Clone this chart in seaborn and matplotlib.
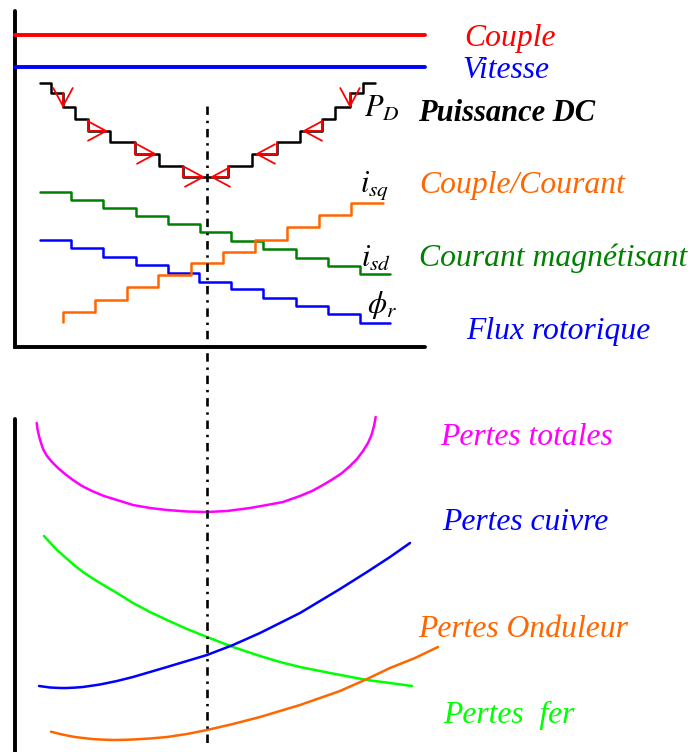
import matplotlib
matplotlib.use("Agg")
import matplotlib.pyplot as plt
import seaborn as sns

# --- data (in picture units: x right, y down) ---
couple_x = [15, 425]
couple_y = [35, 35]
vitesse_x = [15, 425]
vitesse_y = [67, 67]

# DC power staircase (steps-post)
pd_x = [40, 51, 63, 75, 88, 110, 135, 159, 183, 207, 228, 252, 277, 300, 322, 335, 350, 363, 375]
pd_y = [82.7, 93.3, 106.7, 119.3, 130.7, 141.7, 154, 166, 176.7, 176.7,
        166, 154, 141.7, 130.7, 119.3, 106.7, 93.3, 82.7, 82.7]

# i_sd (green), phi_r (blue), i_sq (orange)
isd_x = [40, 71, 103, 136, 168, 200, 231, 263, 296, 328, 360, 390]
isd_y = [191.7, 200, 208.3, 216, 224, 232.3, 241, 249.3, 257.7, 266, 274, 274]
phi_x = [40, 71, 103, 136, 168, 199, 231, 263, 296, 328, 360, 390]
phi_y = [240, 248.3, 256.7, 265, 273.3, 281.7, 289.3, 297.7, 306, 314.3, 322.7, 322.7]
isq_x = [63, 63, 95, 127, 158, 191, 223, 255, 287, 319, 351, 383]
isq_y = [321.7, 311.7, 300, 287.3, 275, 263.3, 251.7, 240, 227.3, 215, 203.3, 203.3]

# red arrows along the DC power staircase: (start, tip)
arrows = [((63, 93), (63, 108)), ((88, 120), (108, 131)), ((135, 142), (157, 154)),
          ((183, 166), (205, 177)), ((228, 166), (210, 177)), ((277, 142), (255, 154)),
          ((322, 120), (302, 131)), ((350, 93), (350, 108))]

# loss curves
tot_x = [36.7, 37.5, 39, 41, 43.5, 47, 52, 58, 65, 73, 82, 92, 104, 117, 133, 150, 167, 187, 207,
         227, 250, 267, 283, 300, 312, 323, 333, 342, 350, 357, 363, 368, 371.5, 374, 375.7]
tot_y = [423, 429, 436, 443, 450, 456, 462, 468, 474, 480, 486, 491, 496, 500, 505, 508, 510, 511.5, 512,
         511, 508, 505, 502, 496, 491, 485, 479, 473, 466, 459, 451, 443, 435, 426, 417]
fer_x = [44, 50, 57, 65, 74, 83, 92, 100, 117, 133, 150, 167, 187, 207, 233, 260, 280, 300, 330, 367, 390, 412]
fer_y = [536, 542.5, 550, 557, 565, 572, 578, 583, 593, 603, 612, 620, 629, 637, 647, 656, 662, 667, 673, 680, 683, 686]
cu_x = [39, 50, 60, 67, 75, 83, 100, 117, 133, 150, 167, 187, 207, 233, 260, 280, 300, 320, 340, 367, 390, 410]
cu_y = [686, 687.5, 688, 688, 687.6, 687, 684.5, 681, 677, 672, 667, 661, 655, 645, 633, 623, 613, 601, 589, 572, 557, 543]
ond_x = [51, 60, 67, 75, 83, 92, 100, 113, 125, 133, 150, 167, 187, 207, 233, 260, 280, 300, 320, 340, 367, 390, 415, 438]
ond_y = [731.7, 734, 735.5, 737, 738, 739, 739.5, 740, 739.8, 739.5, 738.5, 737, 734, 730, 724, 717, 711, 705, 698, 691, 679, 668, 658, 647]

labels = ["Couple", "Vitesse", "Couple/Courant", "Courant magnétisant", "Flux rotorique",
          "Pertes totales", "Pertes cuivre", "Pertes Onduleur", "Pertes  fer"]
label_pos = [(464, 45.7), (462, 78.3), (419, 193.3), (419, 266), (466, 339.3),
             (440, 445), (442, 530), (418, 637.3), (443, 722.7)]
label_col = ["#ff0000", "#0000ff", "#ff6600", "#008000", "#0000ff",
             "#ff00ff", "#0000ff", "#ff6600", "#00ff00"]

sym = [r"$P_D$", r"$i_{sq}$", r"$i_{sd}$", r"$\phi_r$"]
sym_pos = [(364, 116.7), (360, 191.7), (361, 266.7), (367, 313)]

sns.set_style("white")
plt.rcParams["mathtext.fontset"] = "stix"
plt.rcParams["font.family"] = ["Liberation Serif", "DejaVu Serif"]

fig = plt.figure(figsize=(6.91, 7.52), dpi=100)
ax = fig.add_axes([0, 0, 1, 1])

# frames
ax.plot([15, 15, 425], [11, 347, 347], color="black", lw=2.8, solid_joinstyle="miter")
ax.plot([15, 15], [419, 752], color="black", lw=2.8)

sns.lineplot(x=couple_x, y=couple_y, color="#ff0000", lw=2.8, ax=ax)
sns.lineplot(x=vitesse_x, y=vitesse_y, color="#0000ff", lw=2.8, ax=ax)

step_kw = dict(estimator=None, sort=False, drawstyle="steps-post", lw=1.8, ax=ax)
sns.lineplot(x=pd_x, y=pd_y, color="black", **step_kw)
sns.lineplot(x=isd_x, y=isd_y, color="#008000", **step_kw)
sns.lineplot(x=phi_x, y=phi_y, color="#0000ff", **step_kw)
sns.lineplot(x=isq_x, y=isq_y, color="#ff6600", **step_kw)

for (sx, sy), (tx, ty) in arrows:
    cs = "arc3" if sx == tx else "angle,angleA=90,angleB=0,rad=0"
    ax.annotate("", xy=(tx, ty), xytext=(sx, sy),
                arrowprops=dict(arrowstyle="->,head_length=1.3,head_width=0.7",
                                color="#ff0000", lw=1.3, shrinkA=0, shrinkB=0,
                                mutation_scale=10, connectionstyle=cs))

curve_kw = dict(estimator=None, sort=False, lw=1.8, ax=ax)
sns.lineplot(x=tot_x, y=tot_y, color="#ff00ff", **curve_kw)
sns.lineplot(x=fer_x, y=fer_y, color="#00ff00", **curve_kw)
sns.lineplot(x=cu_x, y=cu_y, color="#0000ff", **curve_kw)
sns.lineplot(x=ond_x, y=ond_y, color="#ff6600", **curve_kw)

# optimum marker line
ax.plot([207, 207], [106, 743], color="black", lw=1.9, linestyle=(0, (3.2, 2.2, 0.9, 2.2)))

for t, (x, y), c in zip(labels, label_pos, label_col):
    ax.text(x, y, t, color=c, fontsize=22.8, style="italic", va="baseline", ha="left")
ax.text(418, 121, "Puissance DC", color="black", fontsize=22, style="italic",
        weight="bold", va="baseline", ha="left")
for t, (x, y) in zip(sym, sym_pos):
    ax.text(x, y, t, color="black", fontsize=22, va="baseline", ha="left")

ax.set_xlim(0, 691)
ax.set_ylim(752, 0)
ax.axis("off")

plt.savefig("out.png", dpi=100)
